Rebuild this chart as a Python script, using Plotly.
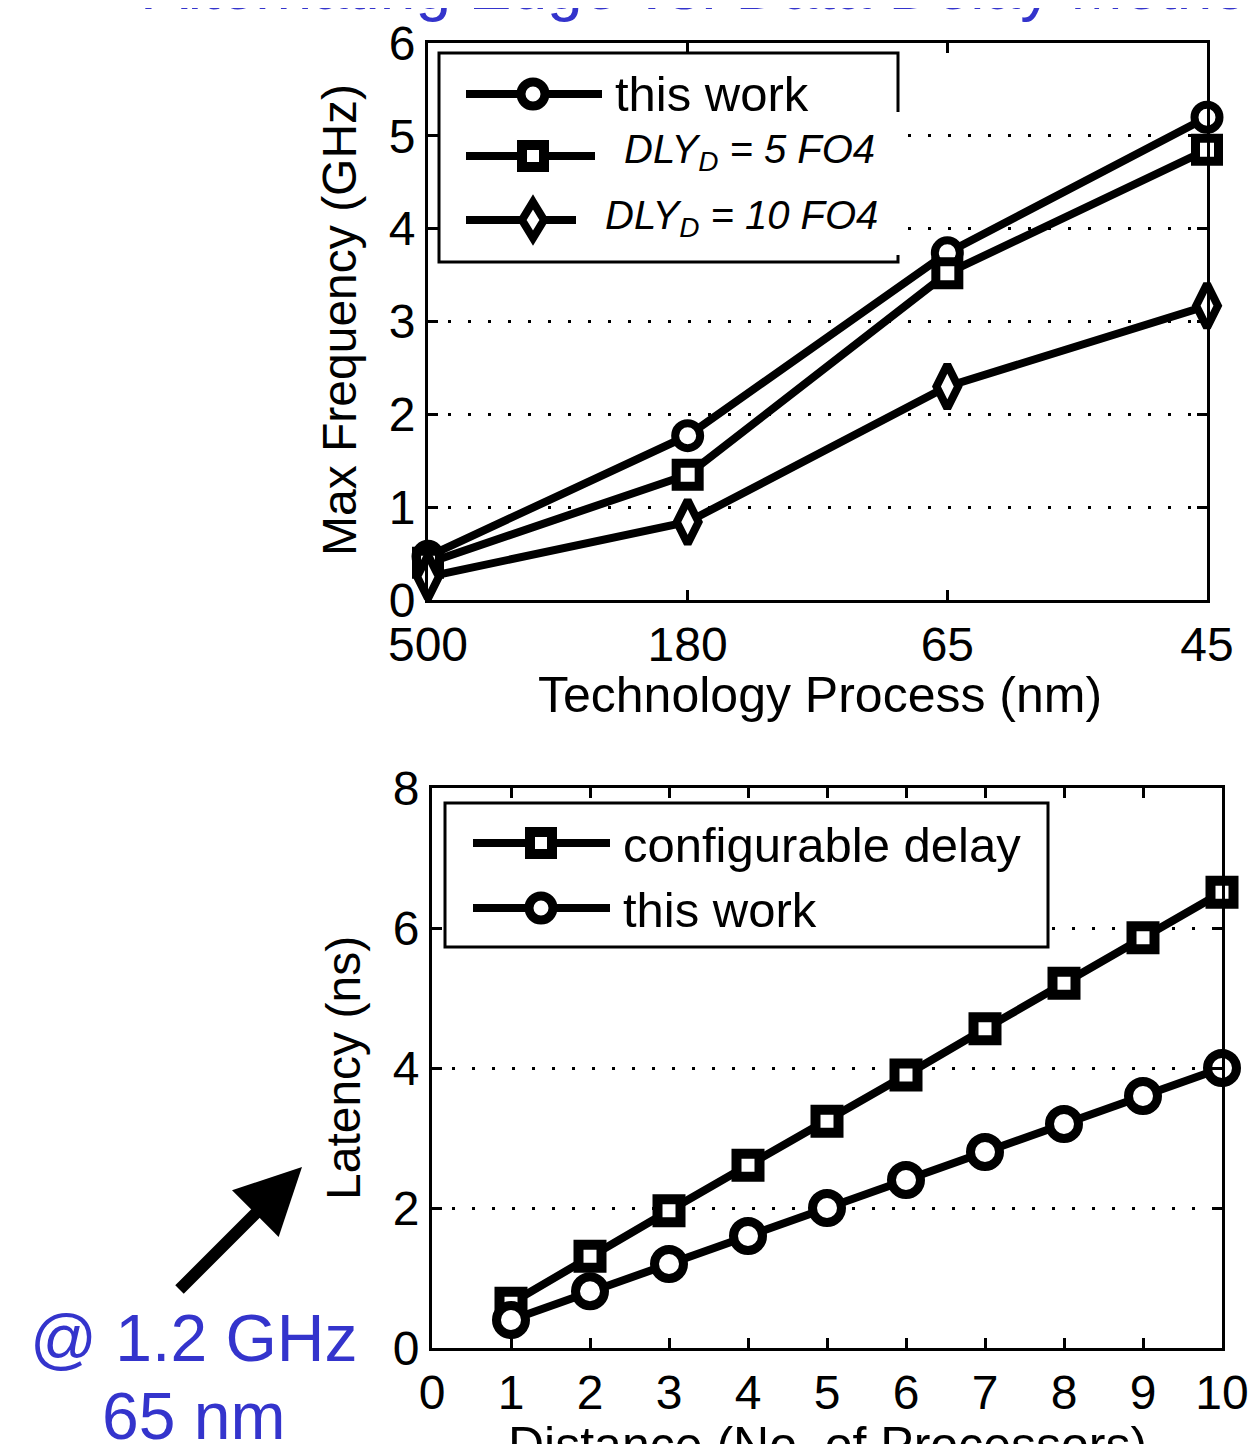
import plotly.graph_objects as go

W, H = 1257, 1444
OFF = 8  # page body margin in the browser

# ---------------- data ----------------
tech_nodes = ["500", "180", "65", "45"]
freq_this_work = [0.47, 1.77, 3.74, 5.20]
freq_dly5 = [0.40, 1.35, 3.52, 4.85]
freq_dly10 = [0.25, 0.84, 2.30, 3.17]

distance = [1, 2, 3, 4, 5, 6, 7, 8, 9, 10]
lat_config = [0.64, 1.31, 1.96, 2.61, 3.24, 3.90, 4.56, 5.21, 5.86, 6.51]
lat_this_work = [0.40, 0.81, 1.20, 1.60, 2.00, 2.40, 2.80, 3.20, 3.60, 4.00]

top_yticks = [0, 1, 2, 3, 4, 5, 6]
bot_xticks = [0, 1, 2, 3, 4, 5, 6, 7, 8, 9, 10]
bot_yticks = [0, 2, 4, 6, 8]

FONT = "Liberation Sans, Arial, Helvetica, sans-serif"
BLUE = "#3434cc"
BLACK = "black"


def px(x):
    return (x - OFF) / W


def py(y):
    return 1 - (y - OFF) / H


fig = go.Figure()

LW = 8
# top panel traces
fig.add_trace(go.Scatter(x=tech_nodes, y=freq_this_work, mode="lines+markers",
                         name="this work", xaxis="x", yaxis="y", cliponaxis=False,
                         line=dict(color=BLACK, width=LW),
                         marker=dict(symbol="circle", size=25, color="white",
                                     line=dict(color=BLACK, width=8))))
fig.add_trace(go.Scatter(x=tech_nodes, y=freq_dly5, mode="lines+markers",
                         name="DLY_D = 5 FO4", xaxis="x", yaxis="y", cliponaxis=False,
                         line=dict(color=BLACK, width=LW),
                         marker=dict(symbol="square", size=23, color="white",
                                     line=dict(color=BLACK, width=9))))
fig.add_trace(go.Scatter(x=tech_nodes, y=freq_dly10, mode="lines+markers",
                         name="DLY_D = 10 FO4", xaxis="x", yaxis="y", cliponaxis=False,
                         line=dict(color=BLACK, width=LW),
                         marker=dict(symbol="diamond-tall", size=31, color="white",
                                     line=dict(color=BLACK, width=8))))

# bottom panel traces
fig.add_trace(go.Scatter(x=distance, y=lat_config, mode="lines+markers",
                         name="configurable delay", xaxis="x2", yaxis="y2", cliponaxis=False,
                         line=dict(color=BLACK, width=LW),
                         marker=dict(symbol="square", size=23, color="white",
                                     line=dict(color=BLACK, width=10))))
fig.add_trace(go.Scatter(x=distance, y=lat_this_work, mode="lines+markers",
                         name="this work", xaxis="x2", yaxis="y2", cliponaxis=False,
                         line=dict(color=BLACK, width=LW),
                         marker=dict(symbol="circle", size=29, color="white",
                                     line=dict(color=BLACK, width=9))))

tickfont = dict(family=FONT, size=48, color=BLACK)
axis_common = dict(showline=True, linecolor=BLACK, linewidth=3, mirror="allticks",
                   ticks="inside", ticklen=10, tickwidth=2.5, tickcolor=BLACK,
                   tickfont=tickfont, zeroline=False, automargin=False)
grid_common = dict(showgrid=True, gridcolor=BLACK, gridwidth=3, griddash="3px,17px")

fig.update_layout(
    width=W, height=H,
    margin=dict(l=0, r=0, t=0, b=0),
    paper_bgcolor="white", plot_bgcolor="white",
    showlegend=False,
    font=dict(family=FONT, color=BLACK),
    xaxis=dict(domain=[px(428), px(1207)], anchor="y", type="category",
               range=[0, 3], showgrid=False, **axis_common),
    yaxis=dict(domain=[py(600), py(43)], anchor="x", range=[0, 6],
               tickvals=top_yticks, **grid_common, **axis_common),
    xaxis2=dict(domain=[px(432), px(1222)], anchor="y2", range=[0, 10],
                tickvals=bot_xticks, showgrid=False, **axis_common),
    yaxis2=dict(domain=[py(1348), py(788)], anchor="x2", range=[0, 8],
                tickvals=bot_yticks, **grid_common, **axis_common),
)

shapes = []
annotations = []

# ---------------- top legend (drawn box) ----------------
shapes.append(dict(type="rect", xref="paper", yref="paper", layer="above",
                   x0=px(439), x1=px(898), y0=py(262), y1=py(53),
                   fillcolor="white", line=dict(width=0)))
border = (f"M{px(898)},{py(112)} L{px(898)},{py(53)} L{px(439)},{py(53)} "
          f"L{px(439)},{py(262)} L{px(898)},{py(262)} L{px(898)},{py(255)}")
shapes.append(dict(type="path", xref="paper", yref="paper", layer="above",
                   path=border, line=dict(color=BLACK, width=3)))


def leg_line(x0, x1, y):
    shapes.append(dict(type="line", xref="paper", yref="paper", layer="above",
                       x0=px(x0), x1=px(x1), y0=py(y), y1=py(y),
                       line=dict(color=BLACK, width=LW)))


def leg_circle(cx, cy, r, w):
    shapes.append(dict(type="circle", xref="paper", yref="paper", layer="above",
                       x0=px(cx - r), x1=px(cx + r), y0=py(cy + r), y1=py(cy - r),
                       fillcolor="white", line=dict(color=BLACK, width=w)))


def leg_square(cx, cy, r, w):
    shapes.append(dict(type="rect", xref="paper", yref="paper", layer="above",
                       x0=px(cx - r), x1=px(cx + r), y0=py(cy + r), y1=py(cy - r),
                       fillcolor="white", line=dict(color=BLACK, width=w)))


def leg_diamond(cx, cy, rx, ry, w):
    path = (f"M{px(cx)},{py(cy - ry)} L{px(cx + rx)},{py(cy)} "
            f"L{px(cx)},{py(cy + ry)} L{px(cx - rx)},{py(cy)} Z")
    shapes.append(dict(type="path", xref="paper", yref="paper", layer="above",
                       path=path, fillcolor="white", line=dict(color=BLACK, width=w)))


def leg_text(x, y, text, size):
    annotations.append(dict(xref="paper", yref="paper", x=px(x), y=py(y),
                            xanchor="left", yanchor="middle", showarrow=False,
                            text=text, font=dict(family=FONT, size=size, color=BLACK)))


leg_line(466, 602, 94)
leg_circle(533, 94, 12, 9)
leg_text(613, 94, "this work", 49)

leg_line(466, 595, 156)
leg_square(533, 156, 11, 10)
leg_text(622, 152, "<i>DLY<sub>D</sub> = 5 FO4</i>", 40)

leg_line(466, 576, 220)
leg_diamond(533, 220, 11, 18, 8)
leg_text(603, 218, "<i>DLY<sub>D</sub> = 10 FO4</i>", 40)

# ---------------- bottom legend ----------------
shapes.append(dict(type="rect", xref="paper", yref="paper", layer="above",
                   x0=px(445), x1=px(1048), y0=py(947), y1=py(803),
                   fillcolor="white", line=dict(color=BLACK, width=3)))
leg_line(473, 610, 843)
leg_square(541, 843, 11, 10)
leg_text(621, 845, "configurable delay", 49)

leg_line(473, 610, 908)
leg_circle(541, 908, 12, 9)
leg_text(621, 910, "this work", 49)

fig.update_layout(shapes=shapes)

# ---------------- axis titles ----------------
annotations += [
    dict(xref="paper", yref="paper", x=px(340), y=py(320), text="Max Frequency (GHz)",
         textangle=-90, showarrow=False, font=dict(family=FONT, size=48, color=BLACK),
         xanchor="center", yanchor="middle"),
    dict(xref="paper", yref="paper", x=px(820), y=py(695), text="Technology Process (nm)",
         showarrow=False, font=dict(family=FONT, size=50, color=BLACK),
         xanchor="center", yanchor="middle"),
    dict(xref="paper", yref="paper", x=px(343), y=py(1068), text="Latency (ns)",
         textangle=-90, showarrow=False, font=dict(family=FONT, size=48, color=BLACK),
         xanchor="center", yanchor="middle"),
    dict(xref="paper", yref="paper", x=px(827), y=py(1445), text="Distance (No. of Processors)",
         showarrow=False, font=dict(family=FONT, size=50, color=BLACK),
         xanchor="center", yanchor="middle"),
]

# ---------------- slide title (cut off at top) ----------------
annotations.append(dict(xref="paper", yref="paper", x=px(143), y=py(-13),
                        text="Alternating Edge vs. Data Delay Method", showarrow=False,
                        xanchor="left", yanchor="middle",
                        font=dict(family=FONT, size=64, color=BLUE)))

# ---------------- operating-point note with arrow ----------------
annotations.append(dict(xref="paper", yref="paper", x=px(302), y=py(1167),
                        ax=-124, ay=124, text="", showarrow=True,
                        arrowhead=2, arrowsize=1.1, arrowwidth=12, arrowcolor=BLACK))
annotations.append(dict(xref="paper", yref="paper", x=px(193), y=py(1338),
                        text="@ 1.2 GHz", showarrow=False, xanchor="center", yanchor="middle",
                        font=dict(family=FONT, size=66, color=BLUE)))
annotations.append(dict(xref="paper", yref="paper", x=px(193), y=py(1416),
                        text="65 nm", showarrow=False, xanchor="center", yanchor="middle",
                        font=dict(family=FONT, size=66, color=BLUE)))

fig.update_layout(annotations=annotations)

fig.write_html("out.html")
